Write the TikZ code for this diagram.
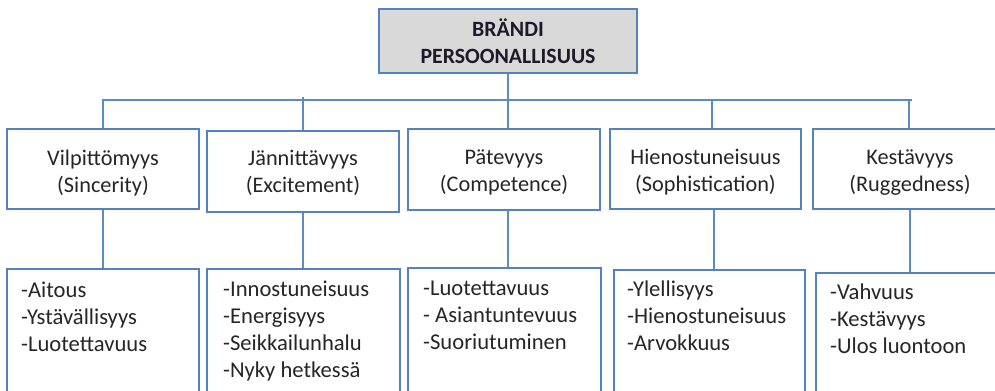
\documentclass[tikz,border=0pt]{standalone}
\usepackage{fontspec}
\setmainfont{Carlito}
\definecolor{connblue}{RGB}{90,139,196}
\definecolor{boxblue}{RGB}{84,130,190}
\definecolor{headgray}{RGB}{217,217,217}
\definecolor{txtgray}{RGB}{38,38,38}
\definecolor{headink}{RGB}{30,26,40}
\begin{document}
\begin{tikzpicture}[x=1bp,y=-1bp,
  conn/.style={draw=connblue, line width=2.8bp},
  box/.style={draw=boxblue, line width=1.5bp, fill=white, inner sep=0pt},
  headbox/.style={box, fill=headgray, line width=1.6bp},
  cattext/.style={text=txtgray, font=\fontsize{22.3bp}{27bp}\selectfont, align=center, inner sep=0pt, anchor=base},
  listtext/.style={text=txtgray, font=\fontsize{22.6bp}{27bp}\selectfont, align=left, inner sep=0pt, anchor=base west},
  headtext/.style={text=headink, font=\fontsize{21.8bp}{27bp}\selectfont\bfseries, align=center, inner sep=0pt, anchor=base}
]
\clip (0,0) rectangle (995,390);

% root box
\node[headbox, minimum width=258bp, minimum height=64bp] (top) at (508,41) {};
% multi-line texts are placed by the baseline of their last line
\node[headtext] (toptxt) at (508,63) {BRÄNDI\\PERSOONALLISUUS};

% dimension boxes
\node[box, minimum width=192bp, minimum height=80bp] (c1) at (103,169) {};
\node[box, minimum width=192bp, minimum height=81bp] (c2) at (303,171.5) {};
\node[box, minimum width=192bp, minimum height=81bp] (c3) at (504,169.5) {};
\node[box, minimum width=191bp, minimum height=80bp] (c4) at (705.5,169) {};
\node[box, minimum width=194bp, minimum height=80bp] (c5) at (910,169) {};

\node[cattext] (t1) at (103,192) {Vilpittömyys\\(Sincerity)};
\node[cattext] (t2) at (303,192) {Jännittävyys\\(Excitement)};
\node[cattext] (t3) at (504,191) {Pätevyys\\(Competence)};
\node[cattext] (t4) at (705.5,191) {Hienostuneisuus\\(Sophistication)};
\node[cattext] (t5) at (910,191) {Kestävyys\\(Ruggedness)};

% trait boxes
\node[box, minimum width=192bp, minimum height=152bp, anchor=north] (b1) at (103,268) {};
\node[box, minimum width=193bp, minimum height=152bp, anchor=north] (b2) at (303.5,268) {};
\node[box, minimum width=193bp, minimum height=153bp, anchor=north] (b3) at (504.5,267) {};
\node[box, minimum width=191bp, minimum height=151bp, anchor=north] (b4) at (709.5,269) {};
\node[box, minimum width=188bp, minimum height=148bp, anchor=north] (b5) at (910,272) {};

\node[listtext] (l1) at (21,351) {-Aitous\\-Ystävällisyys\\-Luotettavuus};
\node[listtext] (l2) at (223,377) {-Innostuneisuus\\-Energisyys\\-Seikkailunhalu\\-Nyky hetkessä};
\node[listtext] (l3) at (423,349) {-Luotettavuus\\- Asiantuntevuus\\-Suoriutuminen};
\node[listtext] (l4) at (627,350) {-Ylellisyys\\-Hienostuneisuus\\-Arvokkuus};
\node[listtext] (l5) at (830,353) {-Vahvuus\\-Kestävyys\\-Ulos luontoon};

% connector positions
\coordinate (busR) at (912,100);
\coordinate (k4) at (712,0);
\coordinate (m4) at (714,0);
\coordinate (k5) at (909,0);

% bus and drops
\draw[conn] (c1.north) |- (busR);
\draw[conn] (c2.north) -- ([yshift=3bp]c2.north |- busR);
\draw[conn] (top.south) -- (top.south |- c3.north);
\draw[conn] (c4.north -| k4) -- (k4 |- busR);
\draw[conn] (c5.north -| k5) -- (k5 |- busR);

% links to trait boxes
\draw[conn] (c1.south) -- (b1.north -| c1.south);
\draw[conn] (c2.south) -- (b2.north -| c2.south);
\draw[conn] (c3.south -| top.south) -- (b3.north -| top.south);
\draw[conn] (c4.south -| m4) -- (b4.north -| m4);
\draw[conn] (c5.south) -- (b5.north -| c5.south);
\end{tikzpicture}
\end{document}
